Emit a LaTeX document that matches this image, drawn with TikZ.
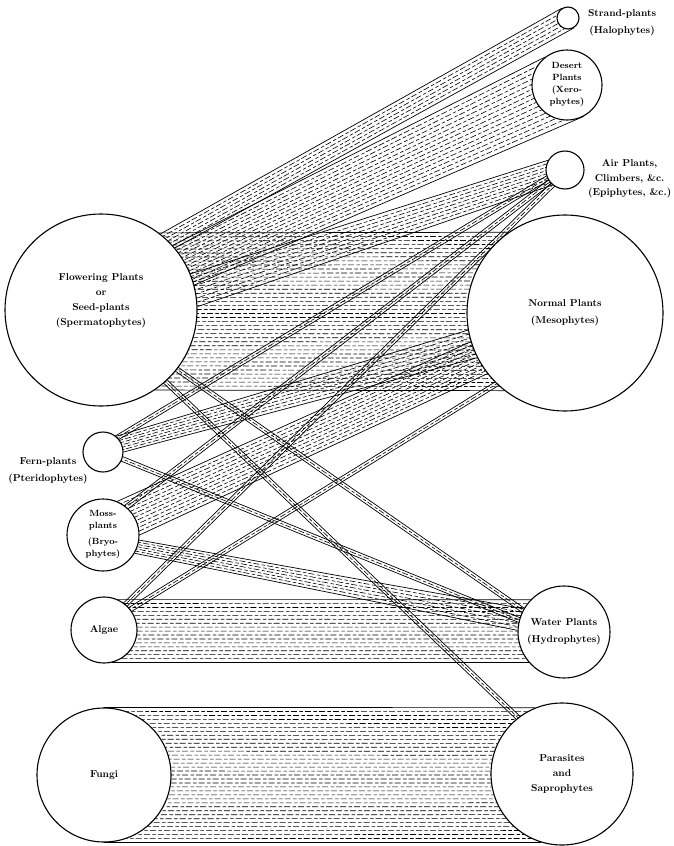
\documentclass[tikz,border=0pt]{standalone}
\usepackage{tikz}
\usetikzlibrary{calc, positioning, backgrounds}
\newcommand{\lblfont}{\fontsize{10}{17}\selectfont\bfseries}
\newcommand{\lbltight}{\fontsize{10}{15}\selectfont\bfseries}
\newcommand{\lblsmall}{\fontsize{9}{12}\selectfont\bfseries}
% band: upper edge #1--#2, lower edge #3--#4, #5 rows of dashes
\newcommand{\band}[5]{%
  \foreach \k in {1,...,#5} {
    \pgfmathsetmacro{\rowpos}{\k/(#5+1)}
    \pgfmathsetmacro{\rowph}{mod(\k*7.9+\k*\k*1.3,14)}
    \draw[dashrow, dash phase=\rowph pt] ($(#1)!\rowpos!(#3)$) -- ($(#2)!\rowpos!(#4)$);
  }
  \draw[bandedge] (#1) -- (#2) (#3) -- (#4);
}
% thin band: two lines with a dashed one between
\newcommand{\thinband}[2]{%
  \draw[bandedge, shorten <=-6pt, shorten >=-6pt]
    ($(#1)!2.4pt!90:(#2)$) -- ($(#2)!2.4pt!-90:(#1)$);
  \draw[bandedge, shorten <=-6pt, shorten >=-6pt]
    ($(#1)!2.4pt!-90:(#2)$) -- ($(#2)!2.4pt!90:(#1)$);
  \draw[dashrow, shorten <=-6pt, shorten >=-6pt] (#1) -- (#2);
}

\begin{document}
\begin{tikzpicture}[
  x=1pt, y=-1pt,
  plant/.style={circle, draw, line width=1.1pt, fill=white, inner sep=0pt,
    align=center, font=\lblfont},
  bandedge/.style={line width=0.7pt},
  dashrow/.style={line width=0.6pt, dash pattern=on 6pt off 2.5pt on 3.5pt off 2pt},
  lbl/.style={align=center, font=\lblfont},
]
  \useasboundingbox (0,0) rectangle (673,846);

  %% Circles, right side
  \node[plant, minimum size=22pt]  (S) at (568,18) {};
  \node[plant, minimum size=70pt, font=\lblsmall] (D) at (567,85)
    {Desert\\Plants\\(Xero-\\phytes)};
  \node[plant, minimum size=38pt]  (A) at (565,170) {};
  \node[plant, minimum size=196pt] (N) at (565,313) {Normal Plants\\(Mesophytes)};
  \node[plant, minimum size=92pt]  (W) at (564,632) {Water Plants\\(Hydrophytes)};
  \node[plant, minimum size=142pt, font=\lbltight] (P) at (562,774)
    {Parasites\\and\\Saprophytes};

  %% Circles, left side
  \node[plant, minimum size=192pt] (F) at (101,310) {};
  \node[lbl, font=\lbltight] (Ftxt) at (101,301)
    {Flowering Plants\\or\\Seed-plants\\(Spermatophytes)};
  \node[plant, minimum size=40pt]  (Fe) at (103,452) {};
  \node[plant, minimum size=72pt, font=\lblsmall] (M) at (103,535)
    {Moss-\\plants\\[4pt](Bryo-\\phytes)};
  \node[plant, minimum size=66pt]  (Al) at (104,630) {Algae};
  \node[plant, minimum size=134pt] (Fu) at (104,775) {Fungi};

  %% Bands, behind the circles
  \begin{scope}[on background layer]
    % broad bands
    \band{F.53}{N.125}{F.304}{N.232}{38}
    \band{Fu.90}{P.112}{Fu.270}{P.253}{33}
    \band{Al.65}{W.136}{Al.284}{W.221}{15}
    % from the seed-plants upward
    \band{F.52}{S.122}{F.40}{S.302}{5}
    \band{F.42}{D.128}{F.15}{D.298}{14}
    \band{F.22}{A.150}{F.2}{A.230}{7}
    % ferns and mosses
    \band{Fe.50}{N.190}{Fe.0}{N.207}{6}
    \band{M.67}{N.197}{M.0}{N.218}{10}
    \band{M.352}{W.150}{M.330}{W.178}{5}
    % thin bands
    \thinband{F.322}{W.152}
    \thinband{F.312}{P.128}
    \thinband{Fe.340}{W.165}
    \thinband{Fe.45}{A.205}
    \thinband{M.50}{A.218}
    \thinband{Al.50}{A.230}
    \thinband{Al.38}{N.226}
  \end{scope}

  %% Labels beside the small circles
  \node[lbl, right=5pt of S, yshift=-5pt] (Slbl) {Strand-plants\\(Halophytes)};
  \node[lbl, font=\fontsize{10}{14.5}\selectfont\bfseries, right=0pt of A, yshift=-9pt] (Albl)
    {Air Plants,\\Climbers, \&c.\\(Epiphytes, \&c.)};
  \node[lbl] (Felbl) at (48,471) {Fern-plants\\(Pteridophytes)};
\end{tikzpicture}
\end{document}
